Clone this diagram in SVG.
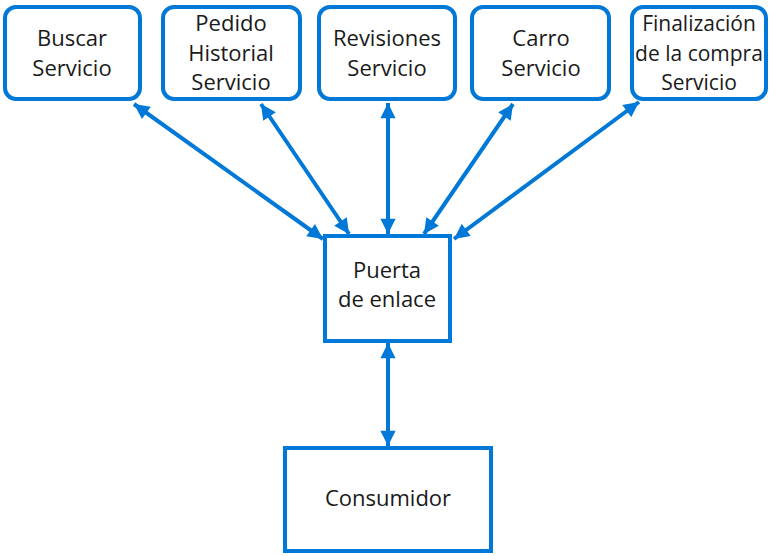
<svg xmlns="http://www.w3.org/2000/svg" width="772" height="556" viewBox="0 0 772 556">
<defs>
<style>
.box{fill:#fff;stroke:#0078d7;stroke-width:4}
.t{font-family:"Open Sans","Noto Sans","DejaVu Sans",sans-serif;font-size:22px;fill:#1a1a1a;text-anchor:middle}
.s{font-size:21px}
.c{stroke:#0078d7;stroke-width:4;fill:none;marker-start:url(#a);marker-end:url(#a)}
</style>
<marker id="a" viewBox="0 0 10 10" refX="10" refY="5" markerWidth="4.2" markerHeight="3.8" orient="auto-start-reverse" markerUnits="strokeWidth">
<path d="M0,0 L10,5 L0,10 z" fill="#0078d7"/>
</marker>
</defs>
<rect width="772" height="556" fill="#fff"/>
<g id="connectors">
<line class="c" x1="134" y1="104" x2="323" y2="239"/>
<line class="c" x1="261" y1="104" x2="349" y2="234"/>
<line class="c" x1="388" y1="103" x2="388" y2="234"/>
<line class="c" x1="513" y1="104" x2="424" y2="234"/>
<line class="c" x1="639" y1="102" x2="454" y2="239"/>
<line class="c" x1="388" y1="343" x2="388" y2="446"/>
</g>
<g id="buscar">
<rect class="box" x="5" y="7" width="135" height="92" rx="11"/>
<text class="t" x="72" y="46">Buscar</text>
<text class="t" x="72" y="76">Servicio</text>
</g>
<g id="pedido">
<rect class="box" x="163" y="7" width="137" height="92" rx="11"/>
<text class="t" x="231" y="31">Pedido</text>
<text class="t" x="231" y="60.5">Historial</text>
<text class="t" x="231" y="90">Servicio</text>
</g>
<g id="revisiones">
<rect class="box" x="319" y="7" width="136" height="92" rx="11"/>
<text class="t" x="387" y="46">Revisiones</text>
<text class="t" x="387" y="76">Servicio</text>
</g>
<g id="carro">
<rect class="box" x="472" y="7" width="137" height="92" rx="11"/>
<text class="t" x="541" y="46">Carro</text>
<text class="t" x="541" y="76">Servicio</text>
</g>
<g id="finalizacion">
<rect class="box" x="632" y="7" width="134" height="92" rx="11"/>
<text class="t s" x="699" y="31">Finalización</text>
<text class="t s" x="699" y="60.5">de la compra</text>
<text class="t s" x="699" y="90">Servicio</text>
</g>
<g id="puerta">
<rect class="box" x="325" y="236" width="125" height="105"/>
<text class="t" x="387" y="278">Puerta</text>
<text class="t" x="387" y="307">de enlace</text>
</g>
<g id="consumidor">
<rect class="box" x="285" y="448" width="206" height="103"/>
<text class="t" x="388" y="506">Consumidor</text>
</g>
</svg>
